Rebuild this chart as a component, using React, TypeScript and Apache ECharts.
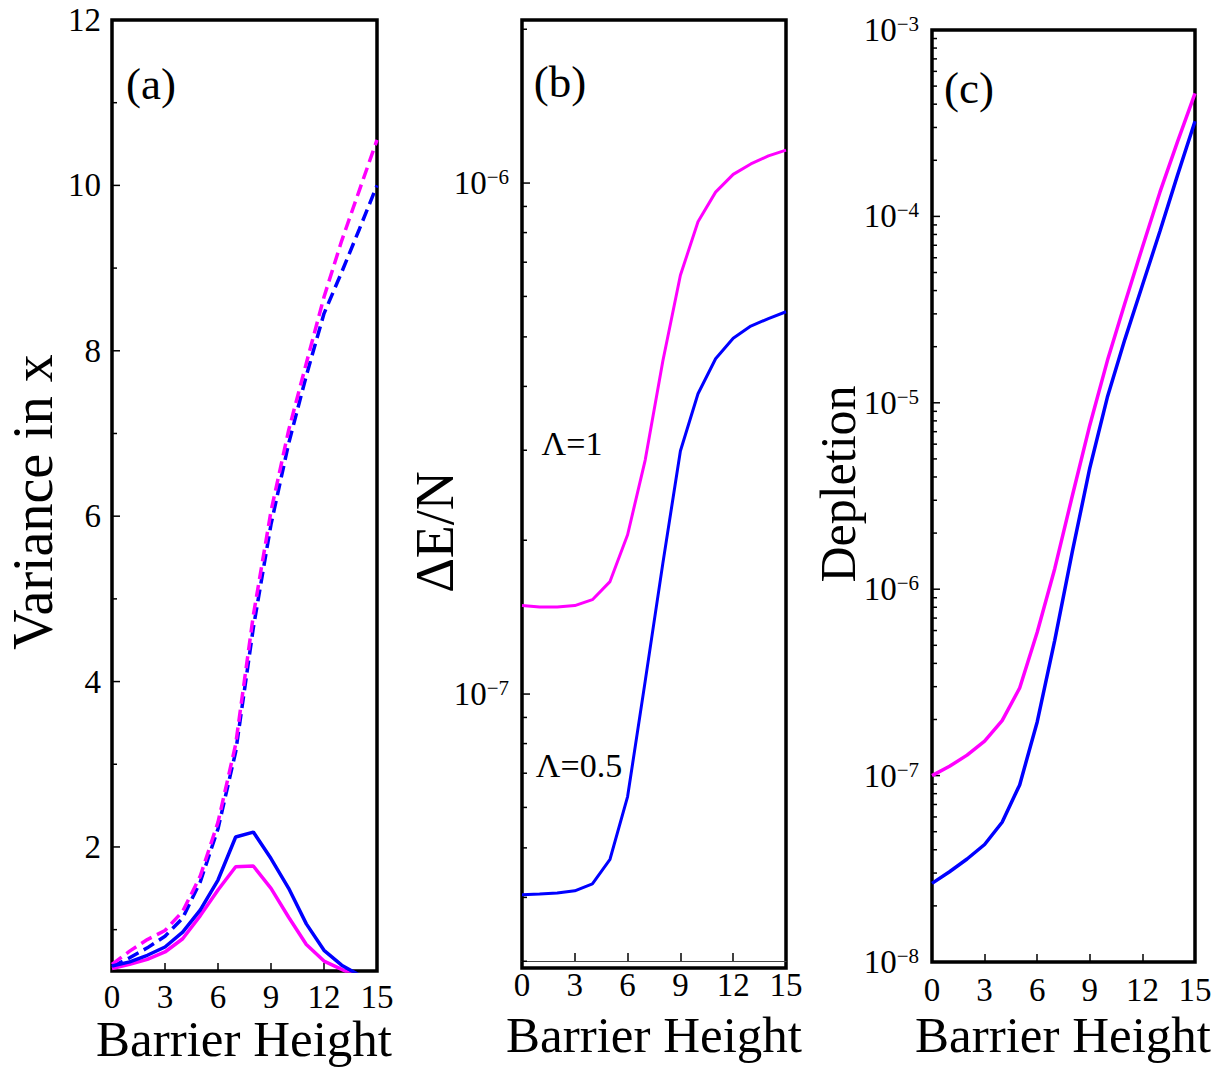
import React, { useEffect, useRef } from "react";
import * as echarts from "echarts";

const FONT = '"Liberation Serif", "Times New Roman", Times, serif';
const MAGENTA = "#ff00ff";
const BLUE = "#0000ff";

// x values (barrier height)
const barrierHeight = [0, 1, 2, 3, 4, 5, 6, 7, 8, 9, 10, 11, 12, 13, 14, 15];
const xTickLabels = ["0", "3", "6", "9", "12", "15"];

// (a) Variance in x
const varSolidL1 = [0.53, 0.58, 0.64, 0.73, 0.89, 1.17, 1.48, 1.76, 1.77, 1.5, 1.15, 0.82, 0.62, 0.52, 0.42, 0.35];
const varSolidL05 = [0.56, 0.61, 0.69, 0.79, 0.97, 1.24, 1.6, 2.12, 2.18, 1.86, 1.5, 1.07, 0.75, 0.57, 0.45, 0.36];
const varDashedL1 = [0.58, 0.74, 0.88, 0.99, 1.22, 1.65, 2.3, 3.24, 4.8, 6.06, 7.04, 7.85, 8.65, 9.33, 9.94, 10.55];
const varDashedL05 = [0.55, 0.66, 0.78, 0.92, 1.14, 1.58, 2.22, 3.15, 4.65, 5.9, 6.88, 7.7, 8.45, 8.95, 9.47, 10.0];

// (b) ΔE/N
const dEL1 = [1.49e-7, 1.48e-7, 1.48e-7, 1.49e-7, 1.53e-7, 1.66e-7, 2.05e-7, 2.87e-7, 4.48e-7, 6.6e-7, 8.4e-7, 9.6e-7, 1.04e-6, 1.09e-6, 1.13e-6, 1.16e-6];
const dEL05 = [4.05e-8, 4.06e-8, 4.08e-8, 4.12e-8, 4.25e-8, 4.75e-8, 6.3e-8, 1.06e-7, 1.8e-7, 2.99e-7, 3.87e-7, 4.53e-7, 4.97e-7, 5.25e-7, 5.43e-7, 5.6e-7];

// (c) Depletion
const depL1 = [1.0e-7, 1.122e-7, 1.288e-7, 1.531e-7, 1.972e-7, 2.951e-7, 5.875e-7, 1.288e-6, 3.162e-6, 7.586e-6, 1.679e-5, 3.42e-5, 6.839e-5, 1.349e-4, 2.512e-4, 4.571e-4];
const depL05 = [2.64e-8, 3.05e-8, 3.57e-8, 4.27e-8, 5.62e-8, 8.91e-8, 1.94e-7, 5.32e-7, 1.585e-6, 4.47e-6, 1.07e-5, 2.19e-5, 4.27e-5, 8.32e-5, 1.66e-4, 3.24e-4];

// y ticks
const varMajorTicks = [2, 4, 6, 8, 10, 12];
const varMinorTicks = [1, 3, 5, 7, 9, 11];
const dEMajorTicks = [1e-7, 1e-6];
const dEMinorTicks = [3e-8, 4e-8, 5e-8, 6e-8, 7e-8, 8e-8, 9e-8, 2e-7, 3e-7, 4e-7, 5e-7, 6e-7, 7e-7, 8e-7, 9e-7, 2e-6];
const depMajorTicks = [1e-8, 1e-7, 1e-6, 1e-5, 1e-4, 1e-3];
const depMinorExponents = [-8, -7, -6, -5, -4];
const minorMultipliers = [2, 3, 4, 5, 6, 7, 8, 9];
const depMinorTicks = depMinorExponents.flatMap((e) => minorMultipliers.map((k) => k * Math.pow(10, e)));

const zip = (ys: number[]) => barrierHeight.map((x, i) => [x, ys[i]]);

const powLabel = (v: number) => {
  const l = Math.log10(v);
  const e = Math.round(l);
  if (Math.abs(l - e) > 1e-6) return "";
  return `{b|10}{s|\u2212${Math.abs(e)}}`;
};

const richSup = {
  b: { fontSize: 33, fontFamily: FONT, color: "#000" },
  s: { fontSize: 21, fontFamily: FONT, color: "#000", verticalAlign: "top", padding: [0, 0, 10, 0] },
};

function tickSeries(gridIdx: number, major: number[], minor: number[]) {
  const data = [
    ...major.map((v) => [0, v, 8]),
    ...minor.map((v) => [0, v, 5]),
  ];
  return {
    type: "custom",
    xAxisIndex: gridIdx,
    yAxisIndex: gridIdx,
    silent: true,
    clip: false,
    data,
    renderItem: (params: any, api: any) => {
      const p = api.coord([api.value(0), api.value(1)]);
      const len = api.value(2);
      return {
        type: "line",
        shape: { x1: p[0], y1: p[1], x2: p[0] + len, y2: p[1] },
        style: { stroke: "#000", lineWidth: 1.5 },
      };
    },
  };
}

function lineSeries(gridIdx: number, ys: number[], color: string, dashed: boolean, width: number) {
  return {
    type: "line",
    xAxisIndex: gridIdx,
    yAxisIndex: gridIdx,
    data: zip(ys),
    symbol: "none",
    showSymbol: false,
    silent: true,
    clip: true,
    lineStyle: { color, width, type: dashed ? [12, 6] : "solid" },
  };
}

const gridBase = { show: true, borderColor: "#000", borderWidth: 3.5, backgroundColor: "transparent", containLabel: false, outerBoundsMode: "none" };

function xAxisFor(gridIdx: number, margin: number, offset: number, showLine: boolean) {
  return {
    type: "value",
    gridIndex: gridIdx,
    min: 0,
    max: 15,
    interval: 3,
    offset,
    axisLine: { show: showLine, lineStyle: { color: "#444", width: 1 } },
    axisTick: { show: true, inside: true, length: 8, lineStyle: { color: "#000", width: 1.5 } },
    splitLine: { show: false },
    axisLabel: {
      fontSize: 33,
      fontFamily: FONT,
      color: "#000",
      margin,
      formatter: (v: number) => (xTickLabels.includes(String(v)) ? String(v) : ""),
    },
  };
}

const yCommon = {
  axisLine: { show: false },
  axisTick: { show: false },
  minorTick: { show: false },
  splitLine: { show: false },
};

const titleText = (text: string, x: number, y: number, size: number, rotate: boolean) => ({
  type: "text",
  x,
  y,
  rotation: rotate ? Math.PI / 2 : 0,
  silent: true,
  style: { text, font: `${size}px ${FONT}`, fill: "#000", align: "center", verticalAlign: "middle" },
});

const option = {
  animation: false,
  backgroundColor: "#fff",
  grid: [
    { ...gridBase, left: 112, top: 20, width: 265, height: 951 },
    { ...gridBase, left: 522, top: 20, width: 264, height: 948 },
    { ...gridBase, left: 932, top: 30, width: 263, height: 932 },
  ],
  xAxis: [xAxisFor(0, 9, 0, false), xAxisFor(1, 7, -7, true), xAxisFor(2, 11, 0, false)],
  yAxis: [
    {
      ...yCommon,
      type: "value",
      gridIndex: 0,
      min: 0.5,
      max: 12,
      splitNumber: 5,
      axisLabel: {
        fontSize: 33,
        fontFamily: FONT,
        color: "#000",
        margin: 11,
        formatter: (v: number) => (varMajorTicks.includes(v) ? String(v) : ""),
      },
    },
    {
      ...yCommon,
      type: "log",
      logBase: 10,
      gridIndex: 1,
      min: 2.91e-8,
      max: 2.085e-6,
      axisLabel: { margin: 13, formatter: powLabel, rich: richSup },
    },
    {
      ...yCommon,
      type: "log",
      logBase: 10,
      gridIndex: 2,
      min: 1e-8,
      max: 1e-3,
      axisLabel: { margin: 13, formatter: powLabel, rich: richSup },
    },
  ],
  series: [
    lineSeries(0, varDashedL05, BLUE, true, 3.5),
    lineSeries(0, varDashedL1, MAGENTA, true, 3.5),
    lineSeries(0, varSolidL1, MAGENTA, false, 3.5),
    lineSeries(0, varSolidL05, BLUE, false, 3.5),
    lineSeries(1, dEL1, MAGENTA, false, 3),
    lineSeries(1, dEL05, BLUE, false, 3),
    lineSeries(2, depL1, MAGENTA, false, 3.5),
    lineSeries(2, depL05, BLUE, false, 3.5),
    tickSeries(0, varMajorTicks, varMinorTicks),
    tickSeries(1, dEMajorTicks, dEMinorTicks),
    tickSeries(2, depMajorTicks, depMinorTicks),
  ],
  graphic: [
    titleText("Variance in x", 33, 502, 56, true),
    titleText("\u0394E/N", 435, 532, 54, true),
    titleText("Depletion", 838, 484, 50, true),
    titleText("Barrier Height", 244, 1039, 51, false),
    titleText("Barrier Height", 654, 1035, 51, false),
    titleText("Barrier Height", 1063, 1035, 51, false),
    titleText("(a)", 151, 84, 45, false),
    titleText("(b)", 560, 82, 45, false),
    titleText("(c)", 969, 88, 45, false),
    titleText("\u039b=1", 572, 443, 34, false),
    titleText("\u039b=0.5", 579, 765, 34, false),
  ],
};

export default function App() {
  const ref = useRef<HTMLDivElement>(null);
  useEffect(() => {
    if (!ref.current) return;
    const chart = echarts.init(ref.current, null, { renderer: "svg" });
    chart.setOption(option as any);
    return () => chart.dispose();
  }, []);
  return (
    <div
      ref={ref}
      style={{ position: "absolute", left: 0, top: 0, width: 1219, height: 1068, background: "#fff" }}
    />
  );
}
